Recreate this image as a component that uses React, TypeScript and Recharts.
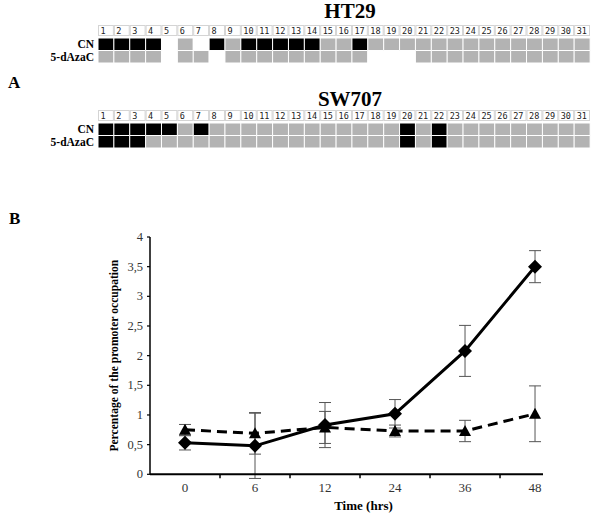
import React from "react";
import { BarChart, Bar, Cell, XAxis, YAxis, LineChart, Line, ErrorBar } from "recharts";

const SERIF = "Liberation Serif, Times New Roman, serif";

// CpG sites
const sites = ["1","2","3","4","5","6","7","8","9","10","11","12","13","14","15","16","17","18","19","20","21","22","23","24","25","26","27","28","29","30","31"];

// 2 = methylated (black), 1 = unmethylated (grey), 0 = not analysed (white)
const ht29CN = [2,2,2,2,0,1,0,2,1,2,2,2,2,2,1,1,2,1,1,1,1,1,1,1,1,1,1,1,1,1,1];
const ht29Aza = [1,1,1,1,0,1,1,0,1,1,1,1,1,1,1,1,1,0,0,0,1,1,1,1,1,1,1,1,1,1,1];
const sw707CN = [2,2,2,2,2,1,2,1,1,1,1,1,1,1,1,1,1,1,1,2,1,2,1,1,1,1,1,1,1,1,1];
const sw707Aza = [2,2,2,1,1,1,1,1,1,1,1,1,1,1,1,1,1,1,1,2,1,2,1,1,1,1,1,1,1,1,1];

const rowLabels = ["5-dAzaC", "CN"];

// panel B
const times = ["0", "6", "12", "24", "36", "48"];
const diamondValues = [0.53, 0.48, 0.83, 1.02, 2.08, 3.5];
const diamondErrors = [0.12, 0.55, 0.38, 0.24, 0.43, 0.27];
const triangleValues = [0.75, 0.69, 0.79, 0.73, 0.73, 1.02];
const triangleErrors = [0.09, 0.35, 0.27, 0.1, 0.18, 0.47];
const yTicks = [0, 0.5, 1, 1.5, 2, 2.5, 3, 3.5, 4];
const xTicks = [0, 0.5, 1, 1.5, 2, 2.5, 3, 3.5, 4, 4.5, 5];

const stateColor = ["#ffffff", "#b3b3b3", "#000000"];
const CELL_W = 492 / 31;

function HeaderTick(props: any) {
  const { x, y, payload } = props;
  return (
    <g>
      <rect x={x - CELL_W / 2 + 0.5} y={y - 12.5} width={CELL_W - 1} height={10} fill="#fff" stroke="#d4d4d4" strokeWidth={1} />
      <text x={x - CELL_W / 2 + 2.5} y={y - 4.5} fontSize={8.5} fontFamily="DejaVu Sans Mono, monospace" fill="#222">
        {payload.value}
      </text>
    </g>
  );
}

function RowTick(props: any) {
  const { x, y, payload } = props;
  return (
    <text x={x} y={y + 4} textAnchor="end" fontFamily={SERIF} fontWeight="bold" fontSize={11.5} fill="#000">
      {rowLabels[Math.floor(payload.value)]}
    </text>
  );
}

function MethylGrid({ cn, aza, top, title, titleY }: { cn: number[]; aza: number[]; top: number; title: string; titleY: number }) {
  const rows = sites.map((s, i) => ({ site: s, aza: 1, cn: 1, azaState: aza[i], cnState: cn[i] }));
  return (
    <>
      <div
        style={{
          position: "absolute",
          left: 0,
          width: 700,
          top: titleY,
          textAlign: "center",
          fontFamily: SERIF,
          fontWeight: "bold",
          fontSize: 21,
          lineHeight: "21px",
        }}
      >
        {title}
      </div>
      <div style={{ position: "absolute", left: 0, top }}>
        <BarChart width={600} height={42} data={rows} margin={{ top: 3, right: 10, left: 0, bottom: 2 }} barCategoryGap={0}>
          <XAxis
            dataKey="site"
            orientation="top"
            height={12}
            tickSize={0}
            tickMargin={0}
            axisLine={false}
            tickLine={false}
            interval={0}
            tick={<HeaderTick />}
          />
          <YAxis
            type="number"
            domain={[0, 2]}
            ticks={[0.5, 1.5]}
            interval={0}
            width={98}
            axisLine={false}
            tickLine={false}
            tickSize={0}
            tickMargin={4}
            tick={<RowTick />}
          />
          <Bar dataKey="aza" stackId="s" isAnimationActive={false} stroke="#fff" strokeWidth={1}>
            {rows.map((r, i) => (
              <Cell key={i} fill={stateColor[r.azaState]} />
            ))}
          </Bar>
          <Bar dataKey="cn" stackId="s" isAnimationActive={false} stroke="#fff" strokeWidth={1}>
            {rows.map((r, i) => (
              <Cell key={i} fill={stateColor[r.cnState]} />
            ))}
          </Bar>
        </BarChart>
      </div>
    </>
  );
}

function TimeTick(props: any) {
  const { x, y, payload } = props;
  const v = payload.value;
  if (Number.isInteger(v)) {
    return (
      <text x={x} y={y + 18} textAnchor="middle" fontSize={13} fontFamily={SERIF} fill="#333">
        {times[v]}
      </text>
    );
  }
  return <line x1={x} x2={x} y1={y} y2={y + 4} stroke="#000" strokeWidth={1.5} />;
}

function ValueTick(props: any) {
  const { x, y, payload } = props;
  return (
    <g>
      <line x1={x + 4} x2={x + 7} y1={y} y2={y} stroke="#000" strokeWidth={1.2} />
      <text x={x} y={y + 4} textAnchor="end" fontSize={12.5} fontFamily={SERIF} fill="#333">
        {String(payload.value).replace(".", ",")}
      </text>
    </g>
  );
}

function Diamond(props: any) {
  const { cx, cy } = props;
  if (cx == null || cy == null) return null;
  const s = 7;
  return <path d={`M${cx},${cy - s}L${cx + s},${cy}L${cx},${cy + s}L${cx - s},${cy}Z`} fill="#000" />;
}

function Triangle(props: any) {
  const { cx, cy } = props;
  if (cx == null || cy == null) return null;
  return <path d={`M${cx},${cy - 6}L${cx + 6},${cy + 5}L${cx - 6},${cy + 5}Z`} fill="#000" />;
}

export default function App() {
  const lineData = times.map((t, i) => ({
    idx: i,
    diamond: diamondValues[i],
    diamondErr: diamondErrors[i],
    triangle: triangleValues[i],
    triangleErr: triangleErrors[i],
  }));

  return (
    <div style={{ position: "absolute", left: 0, top: 0, width: 600, height: 519, background: "#fff", overflow: "hidden" }}>
      <MethylGrid cn={ht29CN} aza={ht29Aza} top={22.5} title="HT29" titleY={1} />
      <MethylGrid cn={sw707CN} aza={sw707Aza} top={108} title="SW707" titleY={89} />

      <div style={{ position: "absolute", left: 8, top: 73, fontFamily: SERIF, fontWeight: "bold", fontSize: 17, lineHeight: "20px" }}>A</div>
      <div style={{ position: "absolute", left: 9, top: 209, fontFamily: SERIF, fontWeight: "bold", fontSize: 17, lineHeight: "20px" }}>B</div>

      <div style={{ position: "absolute", left: 0, top: 230 }}>
        <LineChart width={600} height={289} data={lineData} margin={{ top: 7, right: 57, left: 0, bottom: 0 }}>
          <XAxis
            dataKey="idx"
            type="number"
            domain={[-0.5, 5.114]}
            allowDataOverflow
            ticks={xTicks}
            interval={0}
            height={44.7}
            tickSize={0}
            tickMargin={0}
            tickLine={false}
            axisLine={{ stroke: "#000", strokeWidth: 2 }}
            tick={<TimeTick />}
            label={(p: any) => {
              const vb = p.viewBox;
              return (
                <text x={vb.x + vb.width / 2 + 17} y={vb.y + 36} textAnchor="middle" fontFamily={SERIF} fontWeight="bold" fontSize={13} fill="#000">
                  Time (hrs)
                </text>
              );
            }}
          />
          <YAxis
            type="number"
            domain={[0, 4]}
            allowDataOverflow
            ticks={yTicks}
            interval={0}
            width={150}
            tickLine={false}
            tickSize={0}
            tickMargin={7}
            axisLine={{ stroke: "#000", strokeWidth: 1.5 }}
            tick={<ValueTick />}
            label={(p: any) => {
              const vb = p.viewBox;
              const cx = vb.x + 118;
              const cy = vb.y + vb.height / 2;
              return (
                <text x={cx} y={cy} transform={`rotate(-90 ${cx} ${cy})`} textAnchor="middle" fontFamily={SERIF} fontWeight="bold" fontSize={11.6} fill="#000">
                  Percentage of the promoter occupation
                </text>
              );
            }}
          />
          <Line
            dataKey="triangle"
            stroke="#000"
            strokeWidth={3}
            strokeDasharray="10 6"
            dot={<Triangle />}
            activeDot={false}
            isAnimationActive={false}
          >
            <ErrorBar dataKey="triangleErr" direction="y" width={6} stroke="#555" strokeWidth={1} />
          </Line>
          <Line
            dataKey="diamond"
            stroke="#000"
            strokeWidth={3}
            dot={<Diamond />}
            activeDot={false}
            isAnimationActive={false}
          >
            <ErrorBar dataKey="diamondErr" direction="y" width={6} stroke="#555" strokeWidth={1} />
          </Line>
        </LineChart>
      </div>
    </div>
  );
}
